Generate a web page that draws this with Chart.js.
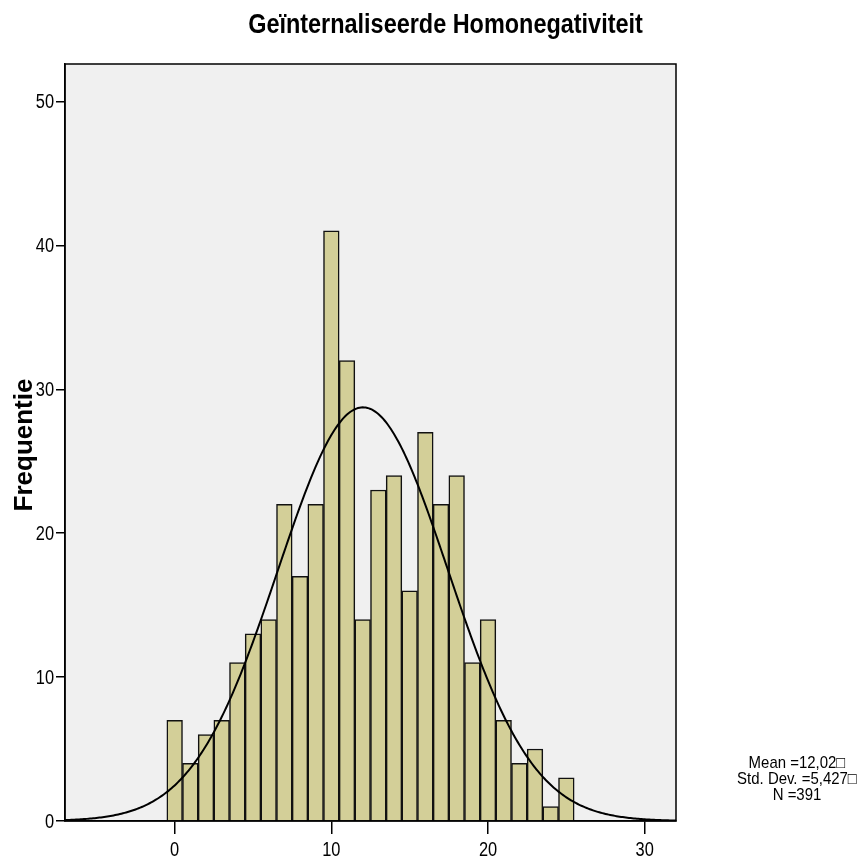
<!DOCTYPE html>
<html>
<head>
<meta charset="utf-8">
<script src="https://cdn.jsdelivr.net/npm/chart.js@4/dist/chart.umd.min.js"></script>
<style>
html,body{margin:0;padding:0;background:#fff;}
#wrap{width:865px;height:860px;position:relative;}
</style>
</head>
<body>
<div id="wrap"><canvas id="c" width="865" height="860"></canvas></div>
<script>
// ---- data ----
const binCenters = [0,1,2,3,4,5,6,7,8,9,10,11,12,13,14,15,16,17,18,19,20,21,22,23,24,25];
const frequencies = [7,4,6,7,11,13,14,22,17,22,41,32,14,23,24,16,27,22,24,11,14,7,4,5,1,3];
const xTicks = [0,10,20,30];
const yTicks = [0,10,20,30,40,50];
const MEAN = 12.02;
const STD_DEV = 5.427;
const N = 391;
const BIN_WIDTH = 1;
const titleText = 'Geïnternaliseerde Homonegativiteit';
const yTitleText = 'Frequentie';
const statsLines = ['Mean =12,02\u25A1', 'Std. Dev. =5,427\u25A1', 'N =391'];

// normal curve overlay defined by the displayed Mean / Std. Dev. / N
const curveX = [];
for (let i = 0; i <= 390; i++) curveX.push(-7 + i * 0.1);
const curve = curveX.map(x => ({
  x: x,
  y: N * BIN_WIDTH * Math.exp(-0.5 * Math.pow((x - MEAN) / STD_DEV, 2)) / (STD_DEV * Math.sqrt(2 * Math.PI))
}));
const barData = binCenters.map((x, i) => ({x: x, y: frequencies[i]}));

const SANS = '"Liberation Sans", Arial, sans-serif';

// draw text horizontally condensed (narrow face look)
function narrowText(ctx, text, x, y, sx, align) {
  ctx.save();
  ctx.translate(x, y);
  ctx.scale(sx, 1);
  ctx.textAlign = align;
  ctx.fillText(text, 0, 0);
  ctx.restore();
}

const decor = {
  id: 'decor',
  beforeDraw(chart) {
    const {ctx, chartArea: a} = chart;
    ctx.save();
    ctx.fillStyle = '#ffffff';
    ctx.fillRect(0, 0, chart.width, chart.height);
    ctx.fillStyle = '#f0f0f0';
    ctx.fillRect(a.left, a.top, a.right - a.left, a.bottom - a.top);
    ctx.restore();
  },
  afterDraw(chart) {
    const {ctx, chartArea: a} = chart;
    const xs = chart.scales.x, ys = chart.scales.y;
    ctx.save();
    ctx.strokeStyle = '#000';
    ctx.lineWidth = 1.5;
    ctx.strokeRect(a.left, a.top, a.right - a.left, a.bottom - a.top);
    ctx.fillStyle = '#000';
    ctx.textBaseline = 'alphabetic';
    // tick labels
    ctx.font = '20px ' + SANS;
    xTicks.forEach(v => narrowText(ctx, String(v), xs.getPixelForValue(v), 856, 0.82, 'center'));
    ctx.textBaseline = 'middle';
    yTicks.forEach(v => narrowText(ctx, String(v), 54, ys.getPixelForValue(v) + 1, 0.82, 'right'));
    ctx.textBaseline = 'alphabetic';
    // title
    ctx.font = 'bold 28px ' + SANS;
    narrowText(ctx, titleText, 445.5, 32.5, 0.837, 'center');
    // y title
    ctx.save();
    ctx.translate(32, 445);
    ctx.rotate(-Math.PI / 2);
    ctx.font = 'bold 26px ' + SANS;
    ctx.textAlign = 'center';
    ctx.fillText(yTitleText, 0, 0);
    ctx.restore();
    // stats
    ctx.font = '17px ' + SANS;
    statsLines.forEach((t, i) => narrowText(ctx, t, 797, 768 + i * 16, 0.88, 'center'));
    ctx.restore();
  }
};

new Chart(document.getElementById('c'), {
  data: {
    datasets: [
      {
        type: 'line',
        data: curve,
        borderColor: '#000',
        borderWidth: 2,
        pointRadius: 0,
        tension: 0,
        fill: false,
        order: 0
      },
      {
        type: 'bar',
        data: barData,
        backgroundColor: '#d3cf98',
        borderColor: '#111',
        borderWidth: 1.5,
        barPercentage: 1.0,
        categoryPercentage: 1.0,
        order: 1
      }
    ]
  },
  options: {
    responsive: false,
    animation: false,
    devicePixelRatio: 1,
    layout: {padding: {left: 0, top: 64, right: 189, bottom: 0}},
    plugins: {legend: {display: false}, tooltip: {enabled: false}, title: {display: false}},
    scales: {
      x: {
        type: 'linear',
        offset: false,
        min: -7,
        max: 32,
        afterBuildTicks(s) { s.ticks = xTicks.map(v => ({value: v})); },
        afterFit(s) { s.height = 39; },
        grid: {offset: false, drawOnChartArea: false, drawTicks: true, tickLength: 13, color: '#000', lineWidth: 1.5},
        border: {display: true, color: '#000', width: 1.5},
        ticks: {display: false}
      },
      y: {
        type: 'linear',
        min: 0,
        max: 52.6,
        afterBuildTicks(s) { s.ticks = yTicks.map(v => ({value: v})); },
        afterFit(s) { s.width = 65; },
        grid: {drawOnChartArea: false, drawTicks: true, tickLength: 9, color: '#000', lineWidth: 1.5},
        border: {display: true, color: '#000', width: 1.5},
        ticks: {display: false}
      }
    }
  },
  plugins: [decor]
});
</script>
</body>
</html>
